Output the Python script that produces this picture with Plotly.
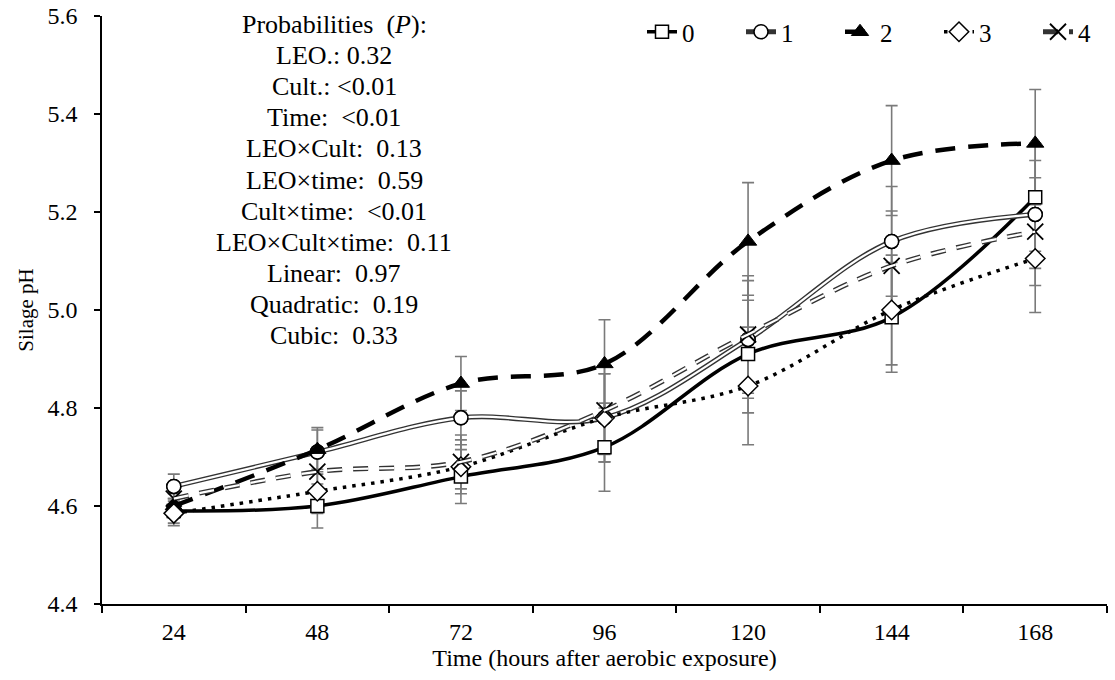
import plotly.graph_objects as go

time_h = [24, 48, 72, 96, 120, 144, 168]
tick_labels = ["24", "48", "72", "96", "120", "144", "168"]
series_names = ["0", "1", "2", "3", "4"]
ph_0 = [4.59, 4.60, 4.66, 4.72, 4.91, 4.985, 5.23]
ph_1 = [4.64, 4.71, 4.78, 4.78, 4.94, 5.14, 5.195]
ph_2 = [4.60, 4.715, 4.85, 4.89, 5.14, 5.305, 5.34]
ph_3 = [4.585, 4.63, 4.68, 4.78, 4.845, 5.00, 5.105]
ph_4 = [4.615, 4.67, 4.69, 4.795, 4.95, 5.09, 5.16]
sem = [0.025, 0.045, 0.055, 0.09, 0.12, 0.112, 0.11]

prob_lines = [
    "Probabilities  (<i>P</i>):",
    "LEO.: 0.32",
    "Cult.: <0.01",
    "Time:  <0.01",
    "LEO×Cult:  0.13",
    "LEO×time:  0.59",
    "Cult×time:  <0.01",
    "LEO×Cult×time:  0.11",
    "Linear:  0.97",
    "Quadratic:  0.19",
    "Cubic:  0.33",
]

FONT = "Liberation Serif"
all_series = [ph_0, ph_1, ph_2, ph_3, ph_4]

fig = go.Figure()

for ys in all_series:
    fig.add_trace(go.Scatter(
        x=time_h, y=ys, mode="markers", marker=dict(size=1, color="rgba(0,0,0,0)"),
        error_y=dict(type="data", array=sem, color="#7a7a7a", thickness=1.6, width=6),
        showlegend=False, hoverinfo="skip"))

mk_line = dict(color="black", width=1.5)
DOUBLE = "#333333"

fig.add_trace(go.Scatter(
    x=time_h, y=ph_0, name=series_names[0], mode="lines+markers",
    line=dict(color="black", width=3.5, shape="spline", smoothing=1),
    marker=dict(symbol="square", size=13, color="white", line=mk_line)))

fig.add_trace(go.Scatter(
    x=time_h, y=ph_1, name=series_names[1], mode="lines+markers",
    legendgroup="s1",
    line=dict(color=DOUBLE, width=5, shape="spline", smoothing=1),
    marker=dict(symbol="circle", size=14, color="white", line=mk_line)))
fig.add_trace(go.Scatter(
    x=time_h, y=ph_1, mode="lines", legendgroup="s1", showlegend=False,
    line=dict(color="white", width=2.2, shape="spline", smoothing=1), hoverinfo="skip"))
fig.add_trace(go.Scatter(
    x=time_h, y=ph_1, mode="markers", legendgroup="s1", showlegend=False,
    marker=dict(symbol="circle", size=14, color="white", line=mk_line), hoverinfo="skip"))

fig.add_trace(go.Scatter(
    x=time_h, y=ph_2, name=series_names[2], mode="lines+markers",
    line=dict(color="black", width=4.5, dash="20px,13px", shape="spline", smoothing=1),
    marker=dict(symbol="triangle-up", size=15, color="black", line=dict(color="black", width=1))))

fig.add_trace(go.Scatter(
    x=time_h, y=ph_3, name=series_names[3], mode="lines+markers",
    line=dict(color="black", width=3.5, dash="3.5px,6px", shape="spline", smoothing=1),
    marker=dict(symbol="diamond", size=15, color="white", line=mk_line)))

fig.add_trace(go.Scatter(
    x=time_h, y=ph_4, name=series_names[4], mode="lines+markers",
    legendgroup="s4",
    line=dict(color=DOUBLE, width=5, dash="15px,11px", shape="spline", smoothing=1),
    marker=dict(symbol="x-thin-open", size=16, color="black", line=dict(color="black", width=1.8))))
fig.add_trace(go.Scatter(
    x=time_h, y=ph_4, mode="lines", legendgroup="s4", showlegend=False,
    line=dict(color="white", width=2.2, dash="15px,11px", shape="spline", smoothing=1), hoverinfo="skip"))

x_center = (334 - 102) / 1005
for i, t in enumerate(prob_lines):
    py = 24 + 31.2 * i
    fig.add_annotation(
        x=x_center, y=(604 - py) / 588, xref="paper", yref="paper",
        text=t, showarrow=False, xanchor="center", yanchor="middle",
        font=dict(family=FONT, size=26, color="black"))

fig.update_layout(
    width=1115, height=680,
    margin=dict(l=102, r=8, t=16, b=76, autoexpand=False),
    paper_bgcolor="white", plot_bgcolor="white",
    font=dict(family=FONT, size=24, color="black"),
    showlegend=True,
    legend=dict(orientation="h", x=(642 - 102) / 1005, xanchor="left",
                y=(604 - 32) / 588, yanchor="middle",
                font=dict(family=FONT, size=25), entrywidth=54, entrywidthmode="pixels",
                bgcolor="rgba(0,0,0,0)", traceorder="normal"),
)

fig.update_xaxes(
    range=[12, 180], tickvals=time_h, ticktext=tick_labels,
    ticks="", ticklabelstandoff=5,
    minor=dict(tick0=12, dtick=24, ticks="outside", ticklen=7, tickcolor="black", tickwidth=1.5),
    showline=True, linecolor="black", linewidth=1.5, showgrid=False, zeroline=False,
    tickfont=dict(family=FONT, size=24),
    title=dict(text="Time (hours after aerobic exposure)", font=dict(family=FONT, size=24), standoff=2),
)
fig.update_yaxes(
    range=[4.4, 5.6], dtick=0.2, tick0=4.4, tickformat=".1f",
    ticks="outside", ticklen=6, tickwidth=1.5, tickcolor="black", ticklabelstandoff=12,
    showline=True, linecolor="black", linewidth=1.5, showgrid=False, zeroline=False,
    tickfont=dict(family=FONT, size=24),
    title=dict(text="Silage pH", font=dict(family=FONT, size=21), standoff=8),
)

fig.write_html("out.html", config={"displayModeBar": False},
               post_script="document.body.style.margin='0px';")
